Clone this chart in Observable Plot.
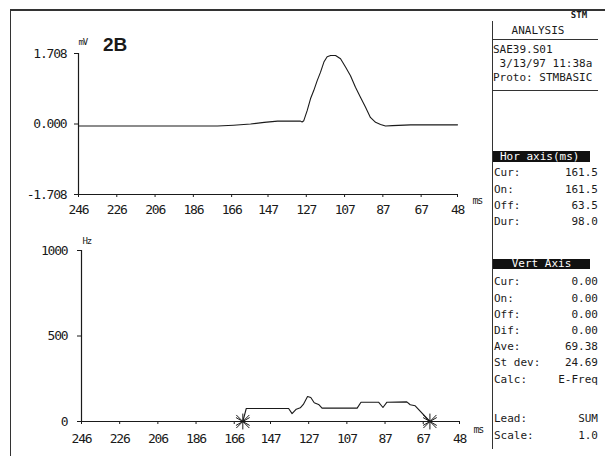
<!DOCTYPE html>
<html><head><meta charset="utf-8">
<script src="https://cdn.jsdelivr.net/npm/d3@7"></script>
<script src="https://cdn.jsdelivr.net/npm/@observablehq/plot@0.6"></script>
<style>
body{margin:0;background:#fff;}
#page{position:relative;width:605px;height:456px;overflow:hidden;background:#fff;font-family:"DejaVu Sans Mono",monospace;color:#111;}
#page .abs{position:absolute;white-space:pre;}
#page svg{position:absolute;left:0;overflow:visible;}
</style></head><body>
<div id="page"></div>
<script>
// ---- data ----
const msTicks = [246, 226, 206, 186, 166, 147, 127, 107, 87, 67, 48];
const mvTicks = [-1.708, 0, 1.708];
const hzTicks = [0, 500, 1000];

const ecgMs = [246, 230, 210, 190, 173.4, 165, 156.1, 149, 142, 136, 130, 129.2, 128.3, 126.5, 124.8, 123.1, 121.3, 119.6, 117.8, 116.1, 114.3, 111.7, 109.1, 106.5, 103.9, 101.3, 98.7, 96.1, 93.5, 90.8, 88.2, 85.6, 82, 72.5, 60, 48];
const ecgMv = [-0.05, -0.05, -0.05, -0.05, -0.05, -0.03, 0.0, 0.04, 0.07, 0.07, 0.07, 0.05, 0.08, 0.33, 0.61, 0.81, 1.05, 1.25, 1.5, 1.63, 1.66, 1.66, 1.58, 1.38, 1.17, 0.89, 0.65, 0.41, 0.16, 0.04, -0.01, -0.05, -0.04, -0.02, -0.02, -0.02];

const freqMs = [161.5, 159.7, 137.5, 135.7, 133.5, 131.4, 129.8, 127.6, 125.9, 124.1, 121.8, 120.0, 101.6, 99.6, 90.4, 88.1, 86.0, 75.6, 73.8, 71.2, 63.5];
const freqHz = [0, 76, 76, 46, 72, 80, 100, 146, 140, 110, 100, 78, 78, 113, 113, 82, 113, 115, 98, 92, 0];

const cursorMs = [161.5, 63.5];

const headerLines = ["SAE39.S01", " 3/13/97 11:38a", "Proto: STMBASIC"];
const horLabels = ["Cur:", "On:", "Off:", "Dur:"];
const horValues = ["161.5", "161.5", "63.5", "98.0"];
const vertLabels = ["Cur:", "On:", "Off:", "Dif:", "Ave:", "St dev:", "Calc:"];
const vertValues = ["0.00", "0.00", "0.00", "0.00", "69.38", "24.69", "E-Freq"];
const footLabels = ["Lead:", "Scale:"];
const footValues = ["SUM", "1.0"];

// ---- build ----
const page = document.getElementById("page");
const ink = "#1a1a1a";
const axisStyle = {fontFamily: '"DejaVu Sans Mono", monospace', fontSize: "13px", color: ink, background: "transparent", letterSpacing: "-1.2px"};

const ecg = ecgMs.map((ms, i) => ({ms, mv: ecgMv[i]}));
const freq = freqMs.map((ms, i) => ({ms, hz: freqHz[i]}));

const topPlot = Plot.plot({
  width: 492, height: 225,
  marginLeft: 78, marginRight: 35, marginTop: 53, marginBottom: 31,
  style: axisStyle,
  x: {domain: [246, 48], ticks: msTicks, tickFormat: d => String(d), tickSize: 3, tickPadding: 7, label: null},
  y: {domain: [-1.708, 1.708], ticks: mvTicks, tickFormat: d => d.toFixed(3), tickSize: 4, tickPadding: 8, label: null},
  marks: [
    Plot.ruleX([246], {stroke: ink, strokeWidth: 1.2}),
    Plot.ruleY([-1.708], {stroke: ink, strokeWidth: 1.2}),
    Plot.line(ecg, {x: "ms", y: "mv", stroke: ink, strokeWidth: 1.1}),
    Plot.text(["mV"], {text: d => d, frameAnchor: "top-left", dx: 0, dy: -15, textAnchor: "start", fontSize: 9, fill: ink}),
    Plot.text(["ms"], {text: d => d, frameAnchor: "bottom-right", dx: 15, dy: 9, textAnchor: "start", fontSize: 10, fill: ink})
  ]
});
topPlot.style.top = "0px";
page.appendChild(topPlot);

const botPlot = Plot.plot({
  width: 492, height: 231,
  marginLeft: 81, marginRight: 33, marginTop: 25, marginBottom: 35,
  style: axisStyle,
  x: {domain: [246, 48], ticks: msTicks, tickFormat: d => String(d), tickSize: 3, tickPadding: 9, label: null},
  y: {domain: [0, 1000], ticks: hzTicks, tickFormat: d => String(d), tickSize: 4, tickPadding: 10, label: null},
  marks: [
    Plot.ruleX([246], {stroke: ink, strokeWidth: 1.2}),
    Plot.ruleY([0], {stroke: ink, strokeWidth: 1.2}),
    Plot.line(freq, {x: "ms", y: "hz", stroke: ink, strokeWidth: 1.1}),
    Plot.dot(cursorMs, {x: d => d, y: () => 0, symbol: "asterisk", r: 7.5, stroke: ink, strokeWidth: 1}),
    Plot.dot(cursorMs, {x: d => d, y: () => 0, symbol: "times", r: 6, stroke: ink, strokeWidth: 1}),
    Plot.text(["Hz"], {text: d => d, frameAnchor: "top-left", dx: 1, dy: -13, textAnchor: "start", fontSize: 9, fill: ink}),
    Plot.text(["ms"], {text: d => d, frameAnchor: "bottom-right", dx: 14, dy: 11, textAnchor: "start", fontSize: 10, fill: ink})
  ]
});
botPlot.style.top = "225px";
page.appendChild(botPlot);

// ---- frame and side panel ----
function box(x, y, w, h, bg) {
  const d = document.createElement("div");
  d.className = "abs";
  Object.assign(d.style, {left: x + "px", top: y + "px", width: w + "px", height: h + "px", background: bg});
  page.appendChild(d);
  return d;
}
function label(t, x, yc, opts = {}) {
  const d = document.createElement("div");
  d.className = "abs";
  d.textContent = t;
  const fs = opts.size || 11;
  Object.assign(d.style, {top: (yc - fs * 0.6) + "px", fontSize: fs + "px", lineHeight: (fs * 1.2) + "px", color: opts.color || ink});
  if (opts.anchor === "end") d.style.right = (605 - x) + "px"; else d.style.left = x + "px";
  if (opts.family) d.style.fontFamily = opts.family;
  if (opts.weight) d.style.fontWeight = opts.weight;
  page.appendChild(d);
  return d;
}

box(10, 9, 595, 1.5, "#333");      // top border
box(9.5, 9, 1.5, 447, "#333");     // left border
box(492, 21, 1.2, 428, "#333");    // side panel divider
box(492, 39, 106, 1.2, "#333");    // rule under ANALYSIS
box(492, 90, 106, 1.2, "#333");    // rule under header

label("STM", 579, 15, {size: 9, weight: "bold"}).style.transform = "translateX(-50%)";
label("ANALYSIS", 538, 31).style.transform = "translateX(-50%)";
headerLines.forEach((t, i) => label(t, 493, 50 + i * 14));

box(493, 151, 97, 10.5, "#111");
label("Hor axis(ms)", 500, 156.2, {color: "#fff"});
horLabels.forEach((t, i) => { label(t, 494, 173 + i * 16.3); label(horValues[i], 598, 173 + i * 16.3, {anchor: "end"}); });

box(493, 258.5, 97, 10.5, "#111");
label("Vert Axis", 541.5, 263.7, {color: "#fff"}).style.transform = "translateX(-50%)";
vertLabels.forEach((t, i) => { label(t, 494, 282 + i * 16.2); label(vertValues[i], 598, 282 + i * 16.2, {anchor: "end"}); });
footLabels.forEach((t, i) => { label(t, 494, 419 + i * 17); label(footValues[i], 598, 419 + i * 17, {anchor: "end"}); });

label("2B", 103, 45, {size: 19, weight: "bold", family: '"Liberation Sans", Arial, sans-serif'});
</script>
</body></html>
